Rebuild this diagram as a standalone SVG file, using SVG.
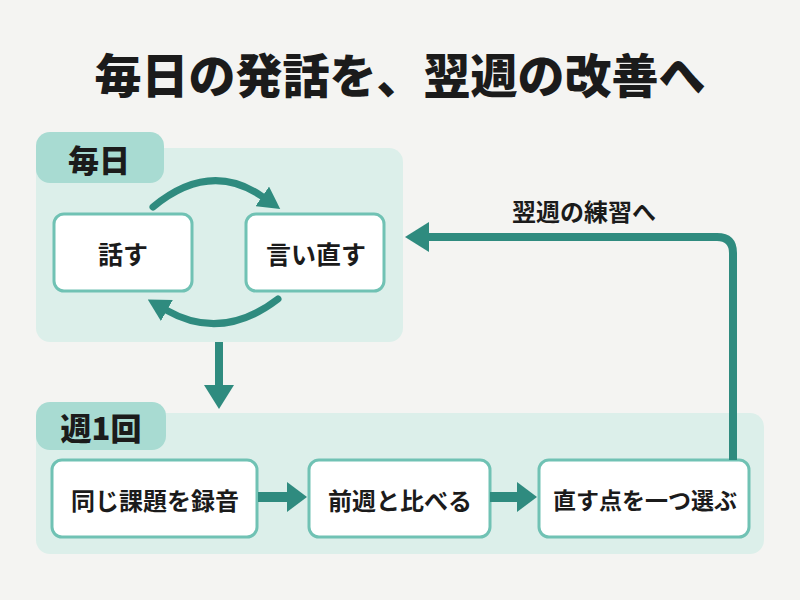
<svg xmlns="http://www.w3.org/2000/svg" width="800" height="600" viewBox="0 0 800 600">
<defs>
<style>
.t{font-family:"Noto Sans CJK JP","Noto Sans",sans-serif;font-weight:700;fill:#1b1b1b;text-anchor:middle;dominant-baseline:central}
.panel{fill:#dcefea}
.tab{fill:#a8dbd2}
.node{fill:#ffffff;stroke:#70c2b4;stroke-width:3}
.arc{fill:none;stroke:#2f8b7f;stroke-width:7;stroke-linecap:round}
.line{fill:none;stroke:#2f8b7f;stroke-width:8}
.block{fill:none;stroke:#2f8b7f;stroke-width:10}
</style>
<marker id="arcHead" viewBox="0 0 22 24" markerWidth="22" markerHeight="24" refX="1" refY="12" orient="auto" markerUnits="userSpaceOnUse"><path d="M0,0 L22,12 L0,24 Z" fill="#2f8b7f"/></marker>
<marker id="bigHead" viewBox="0 0 24 30" markerWidth="24" markerHeight="30" refX="1" refY="15" orient="auto" markerUnits="userSpaceOnUse"><path d="M0,0 L24,15 L0,30 Z" fill="#2f8b7f"/></marker>
<marker id="blockHead" viewBox="0 0 20 30" markerWidth="20" markerHeight="30" refX="1" refY="15" orient="auto" markerUnits="userSpaceOnUse"><path d="M0,0 L20,15 L0,30 Z" fill="#2f8b7f"/></marker>
</defs>
<rect width="800" height="600" fill="#f4f4f2"/>
<text class="t" x="400" y="72" font-size="47" style="font-weight:900">毎日の発話を、翌週の改善へ</text>

<g id="daily-group">
<rect class="panel" x="36" y="148" width="367" height="194" rx="14"/>
<rect class="tab" x="36" y="132" width="128" height="51" rx="14"/>
<text class="t" x="99" y="158" font-size="31" style="font-weight:900">毎日</text>
</g>
<g id="weekly-group">
<rect class="panel" x="36" y="413" width="728" height="141" rx="14"/>
<rect class="tab" x="36" y="402" width="130" height="48" rx="14"/>
<text class="t" x="101" y="426" font-size="31" style="font-weight:900">週1回</text>
</g>

<g id="node-hanasu">
<rect class="node" x="54" y="214" width="138" height="77" rx="10"/>
<text class="t" x="123" y="253" font-size="25">話す</text>
</g>
<g id="node-iinaosu">
<rect class="node" x="246" y="214" width="138" height="77" rx="10"/>
<text class="t" x="316" y="253" font-size="25">言い直す</text>
</g>
<g id="node-record">
<rect class="node" x="52" y="460" width="205" height="77" rx="10"/>
<text class="t" x="155" y="499" font-size="24">同じ課題を録音</text>
</g>
<g id="node-compare">
<rect class="node" x="309" y="460" width="181" height="77" rx="10"/>
<text class="t" x="400" y="499" font-size="24">前週と比べる</text>
</g>
<g id="node-choose">
<rect class="node" x="539" y="460" width="210" height="77" rx="10"/>
<text class="t" x="645" y="499" font-size="23">直す点を一つ選ぶ</text>
</g>

<g id="connectors">
<path class="arc" d="M153,207 Q210,160 263,197" marker-end="url(#arcHead)"/>
<path class="arc" d="M278,299 Q222,342 166,310" marker-end="url(#arcHead)"/>
<path class="line" d="M219,342 V386" marker-end="url(#bigHead)"/>
<path class="line" d="M733,460 V253 Q733,237 717,237 H428" marker-end="url(#bigHead)"/>
<path class="block" d="M258,497 H288" marker-end="url(#blockHead)"/>
<path class="block" d="M490,497 H518" marker-end="url(#blockHead)"/>
<text class="t" x="584" y="210" font-size="24">翌週の練習へ</text>
</g>
</svg>
